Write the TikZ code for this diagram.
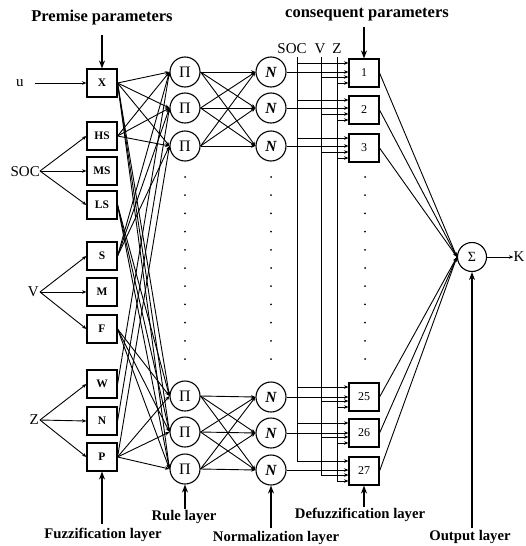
\documentclass[tikz,border=0pt]{standalone}
\usepackage{fontspec}
\setmainfont{Liberation Serif}
\usetikzlibrary{arrows.meta,calc}
\begin{document}
\begin{tikzpicture}[x=1pt,y=-1pt,
  fz/.style={draw,line width=1.1pt,minimum width=30pt,minimum height=28pt,inner sep=0pt,font=\bfseries\fontsize{11.5}{12}\selectfont},
  rc/.style={draw,circle,line width=1.1pt,minimum size=30pt,inner sep=0pt,font=\fontsize{16}{16}\selectfont},
  conn/.style={-{Stealth[length=4.5pt,width=3.5pt]},line width=0.9pt},
  plain/.style={line width=0.9pt},
  big/.style={-{Stealth[length=8pt,width=6pt]},line width=2pt},
  lbl/.style={font=\bfseries\fontsize{14.7}{15}\selectfont,inner sep=0pt},
  tlbl/.style={font=\bfseries\fontsize{16.5}{17}\selectfont,inner sep=0pt},
  txt/.style={font=\fontsize{15}{15}\selectfont,inner sep=0pt}]
\useasboundingbox (0,0) rectangle (526,546);

% fuzzification boxes
\node[fz] (fX) at (102,83) {X};
\node[fz] (fHS) at (102,136) {HS};
\node[fz] (fMS) at (102,171) {MS};
\node[fz] (fLS) at (102,205) {LS};
\node[fz] (fS) at (102,256) {S};
\node[fz] (fM) at (102,292) {M};
\node[fz] (fF) at (102,329) {F};
\node[fz] (fW) at (102,384) {W};
\node[fz] (fN) at (102,421) {N};
\node[fz] (fP) at (102,457) {P};

% inputs
\node[txt] (u) at (20,83) {u};
\node[txt,anchor=east] (soc) at (40,172) {SOC};
\node[txt,anchor=east] (v) at (39,292) {V};
\node[txt,anchor=east] (z) at (39,420) {Z};
\coordinate (uE) at (35,83);
\coordinate (socP) at (40,171);
\coordinate (vP) at (40,292);
\coordinate (zP) at (40,420);
\draw[conn] (uE) -- (fX.west);
\foreach \b in {fHS,fMS,fLS} \draw[conn] (socP) -- (\b.west);
\foreach \b in {fS,fM,fF} \draw[conn] (vP) -- (\b.west);
\foreach \b in {fW,fN,fP} \draw[conn] (zP) -- (\b.west);

% rule layer
\node[rc] (p1) at (185,72) {Π};
\node[rc] (p2) at (185,108) {Π};
\node[rc] (p3) at (185,146) {Π};
\node[rc] (p25) at (185,396) {Π};
\node[rc] (p26) at (185,432) {Π};
\node[rc] (p27) at (185,469) {Π};

% normalization layer
\foreach \i/\yy in {1/72,2/108,3/146,25/397,26/433,27/470}
  \node[rc,font=\bfseries\itshape\fontsize{15.5}{16}\selectfont] (n\i) at (271,\yy) {N};

% defuzzification boxes
\foreach \i/\yy in {1/73,2/110,3/148,25/397,26/433,27/471}
  \node[fz,font=\fontsize{12}{12}\selectfont] (d\i) at (364,\yy) {\i};

% output
\node[rc,minimum size=29pt,font=\fontsize{14}{14}\selectfont] (sig) at (472,257) {Σ};
\node[txt] (K) at (519,257) {K};
\draw[conn] (sig.east) -- (K.west);

% dots
\foreach \k in {0,...,10} {
  \fill (185,177+18.2*\k) circle (1pt);
  \fill (271,177+18.2*\k) circle (1pt);
  \fill (365,177+18.2*\k) circle (1pt);
}

% fuzzification -> rule
\foreach \p in {p1,p2,p3,p25,p26,p27} \draw[conn] (fX.east) -- (\p.west);
\foreach \p in {p1,p2,p3} {
  \draw[conn] (fHS.east) -- (\p.west);
  \draw[conn] (fS.east) -- (\p.west);
}
\foreach \p in {p25,p26,p27} {
  \draw[conn] (fLS.east) -- (\p.west);
  \draw[conn] (fF.east) -- (\p.west);
  \draw[conn] (fP.east) -- (\p.west);
}
\draw[conn] (fW.east) -- (p1.west);
\draw[conn] (fN.east) -- (p2.west);
\draw[conn] (fP.east) -- (p3.west);

% rule -> normalization
\foreach \a in {p1,p2,p3} \foreach \b in {n1,n2,n3} \draw[conn] (\a.east) -- (\b.west);
\foreach \a in {p25,p26,p27} \foreach \b in {n25,n26,n27} \draw[conn] (\a.east) -- (\b.west);

% normalization -> defuzzification
\foreach \i in {1,2,3,25,26,27} \draw[conn] (n\i.east) -- (n\i.east -| d\i.west);

% SOC V Z lines
\node[txt] (tsoc) at (292,49) {SOC};
\node[txt] (tv) at (320,49) {V};
\node[txt] (tz) at (337,49) {Z};
\coordinate (socT) at (297,57);
\coordinate (vT) at (321,57);
\coordinate (zT) at (337,57);
\foreach \i in {1,2,3,25,26,27} {
  \path ($(d\i.west)+(0,-10)$) coordinate (as\i)
        ($(d\i.west)+(0,4)$) coordinate (av\i)
        ($(d\i.west)+(0,10)$) coordinate (az\i);
  \draw[conn] (socT |- as\i) -- (as\i);
  \draw[conn] (vT |- av\i) -- (av\i);
  \draw[conn] (zT |- az\i) -- (az\i);
}
\draw[plain] (socT) -- (socT |- as27);
\draw[plain] (vT) -- (vT |- av27);
\draw[plain] (zT) -- (zT |- az27);

% defuzzification -> sum
\foreach \i in {1,2,3,25,26,27} \draw[conn] (d\i.east) -- (sig.west);

% layer labels
\node[tlbl] (prem) at (102,18) {Premise parameters};
\node[tlbl] (cons) at (367,15) {consequent parameters};
\node[lbl] (lfuz) at (103,535) {Fuzzification layer};
\node[lbl] (lrule) at (184,517) {Rule layer};
\node[lbl] (lnorm) at (276,538) {Normalization layer};
\node[lbl] (ldef) at (360,515) {Defuzzification layer};
\node[lbl] (lout) at (470,537) {Output layer};
\coordinate (a1) at (102,35);
\coordinate (a2) at (364,27);
\coordinate (a3) at (102,524);
\coordinate (a4) at (185,509);
\coordinate (a5) at (271,528);
\coordinate (a6) at (364,507);
\coordinate (a7) at (472,528);
\draw[big] (a1) -- (fX.north);
\draw[big] (a2) -- (d1.north);
\draw[big] (a3) -- (fP.south);
\draw[big] (a4) -- (p27.south);
\draw[big] (a5) -- (n27.south);
\draw[big] (a6) -- (d27.south);
\draw[big] (a7) -- (sig.south);
\end{tikzpicture}
\end{document}
